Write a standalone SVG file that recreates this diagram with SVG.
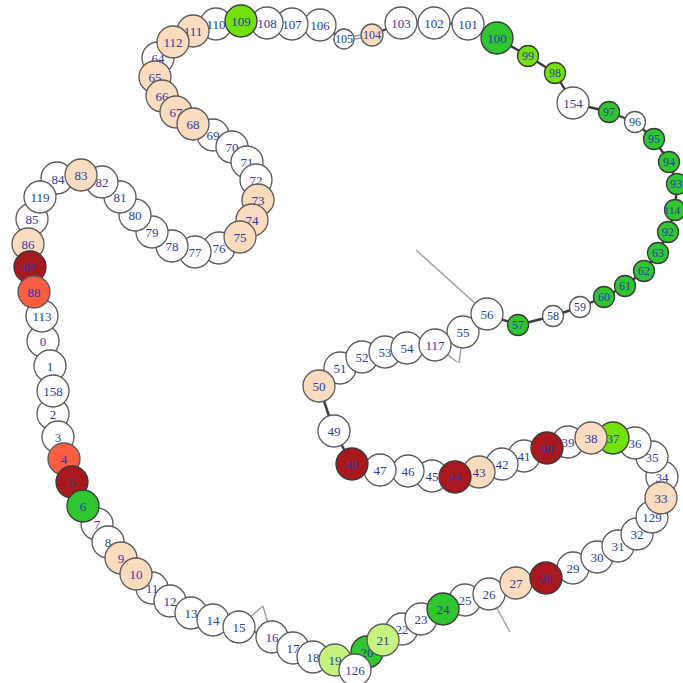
<svg xmlns="http://www.w3.org/2000/svg" width="683" height="683" viewBox="0 0 683 683">
<style>
.n{stroke:#5a5a5a;stroke-width:1.3}
.w{fill:#ffffff}
.pe{fill:#fcdcbf}
.dr{fill:#a8191f;stroke:#3a3a3a}
.tm{fill:#fa5d42}
.g{fill:#2fc62f;stroke:#3a3a3a}
.bg{fill:#72e20a;stroke:#3a3a3a}
.lg{fill:#c6f27e}
text{font-family:"Liberation Serif","Times New Roman",serif;font-size:13px;fill:#2b3ba8;text-anchor:middle;dominant-baseline:central}
.s text{font-size:12px}
.e line{stroke:#4a4a4a;stroke-width:1.6}
.e .k{stroke:#3a3a3a;stroke-width:2.4}
.e .f{stroke:#a0a0a0;stroke-width:1.5}
</style>
<rect width="683" height="683" fill="#ffffff"/>
<g id="edges" class="e">
<line class="f" x1="487" y1="314" x2="416" y2="250"/>
<line class="f" x1="463" y1="332" x2="459" y2="363"/>
<line class="f" x1="435" y1="345" x2="457" y2="362"/>
<line class="f" x1="239" y1="627" x2="263" y2="606"/>
<line class="f" x1="272" y1="637" x2="263" y2="606"/>
<line class="f" x1="489" y1="594" x2="510" y2="632"/>
<line x1="42" y1="316" x2="43" y2="341"/>
<line x1="43" y1="341" x2="50" y2="366"/>
<line x1="50" y1="366" x2="53" y2="391"/>
<line x1="53" y1="391" x2="53" y2="414"/>
<line x1="53" y1="414" x2="58" y2="437"/>
<line x1="58" y1="437" x2="64" y2="459"/>
<line x1="64" y1="459" x2="72" y2="482"/>
<line x1="72" y1="482" x2="83" y2="506"/>
<line x1="83" y1="506" x2="97" y2="524"/>
<line x1="97" y1="524" x2="108" y2="542"/>
<line x1="108" y1="542" x2="121" y2="558"/>
<line x1="121" y1="558" x2="136" y2="574"/>
<line x1="136" y1="574" x2="152" y2="588"/>
<line x1="152" y1="588" x2="170" y2="601"/>
<line x1="170" y1="601" x2="191" y2="613"/>
<line x1="191" y1="613" x2="213" y2="620"/>
<line x1="213" y1="620" x2="239" y2="627"/>
<line x1="239" y1="627" x2="272" y2="637"/>
<line x1="272" y1="637" x2="293" y2="648"/>
<line x1="293" y1="648" x2="313" y2="657"/>
<line x1="313" y1="657" x2="335" y2="660"/>
<line x1="335" y1="660" x2="355" y2="670"/>
<line x1="355" y1="670" x2="367" y2="652"/>
<line x1="367" y1="652" x2="383" y2="640"/>
<line x1="383" y1="640" x2="402" y2="629"/>
<line x1="402" y1="629" x2="421" y2="619"/>
<line x1="421" y1="619" x2="443" y2="609"/>
<line x1="443" y1="609" x2="465" y2="600"/>
<line x1="465" y1="600" x2="489" y2="594"/>
<line x1="489" y1="594" x2="516" y2="583"/>
<line x1="516" y1="583" x2="546" y2="578"/>
<line x1="546" y1="578" x2="573" y2="568"/>
<line x1="573" y1="568" x2="597" y2="557"/>
<line x1="597" y1="557" x2="618" y2="546"/>
<line x1="618" y1="546" x2="637" y2="534"/>
<line x1="637" y1="534" x2="652" y2="517"/>
<line x1="652" y1="517" x2="661" y2="498"/>
<line x1="661" y1="498" x2="662" y2="477"/>
<line x1="662" y1="477" x2="652" y2="457"/>
<line x1="652" y1="457" x2="635" y2="443"/>
<line x1="635" y1="443" x2="613" y2="438"/>
<line x1="613" y1="438" x2="591" y2="438"/>
<line x1="591" y1="438" x2="568" y2="442"/>
<line x1="568" y1="442" x2="547" y2="448"/>
<line x1="547" y1="448" x2="524" y2="456"/>
<line x1="524" y1="456" x2="502" y2="464"/>
<line x1="502" y1="464" x2="479" y2="472"/>
<line x1="479" y1="472" x2="455" y2="477"/>
<line x1="455" y1="477" x2="432" y2="476"/>
<line x1="432" y1="476" x2="408" y2="471"/>
<line x1="408" y1="471" x2="380" y2="470"/>
<line x1="380" y1="470" x2="352" y2="464"/>
<line class="k" x1="352" y1="464" x2="334" y2="431"/>
<line class="k" x1="334" y1="431" x2="319" y2="386"/>
<line x1="319" y1="386" x2="340" y2="368"/>
<line x1="340" y1="368" x2="362" y2="357"/>
<line x1="362" y1="357" x2="385" y2="352"/>
<line x1="385" y1="352" x2="407" y2="348"/>
<line x1="407" y1="348" x2="435" y2="345"/>
<line x1="435" y1="345" x2="463" y2="332"/>
<line x1="463" y1="332" x2="487" y2="314"/>
<line class="k" x1="487" y1="314" x2="518" y2="325"/>
<line class="k" x1="518" y1="325" x2="553" y2="316"/>
<line class="k" x1="553" y1="316" x2="580" y2="307"/>
<line class="k" x1="580" y1="307" x2="604" y2="297"/>
<line class="k" x1="604" y1="297" x2="625" y2="286"/>
<line class="k" x1="625" y1="286" x2="644" y2="271"/>
<line class="k" x1="644" y1="271" x2="658" y2="253"/>
<line class="k" x1="658" y1="253" x2="668" y2="232"/>
<line class="k" x1="668" y1="232" x2="675" y2="210"/>
<line class="k" x1="675" y1="210" x2="677" y2="184"/>
<line class="k" x1="677" y1="184" x2="669" y2="162"/>
<line class="k" x1="669" y1="162" x2="654" y2="139"/>
<line class="k" x1="654" y1="139" x2="635" y2="122"/>
<line class="k" x1="635" y1="122" x2="609" y2="112"/>
<line class="k" x1="609" y1="112" x2="573" y2="103"/>
<line class="k" x1="573" y1="103" x2="555" y2="73"/>
<line class="k" x1="555" y1="73" x2="528" y2="56"/>
<line class="k" x1="528" y1="56" x2="497" y2="38"/>
<line x1="497" y1="38" x2="468" y2="24"/>
<line class="k" x1="468" y1="24" x2="434" y2="23"/>
<line class="k" x1="434" y1="23" x2="401" y2="23"/>
<line class="k" x1="401" y1="23" x2="372" y2="35"/>
<line class="f" x1="372" y1="33.5" x2="344" y2="37.5"/>
<line class="f" x1="372" y1="36.5" x2="344" y2="40.5"/>
<line class="k" x1="344" y1="39" x2="320" y2="25"/>
<line x1="320" y1="25" x2="292" y2="24"/>
<line x1="292" y1="24" x2="267" y2="23"/>
<line x1="267" y1="23" x2="241" y2="21"/>
<line x1="241" y1="21" x2="216" y2="24"/>
<line x1="216" y1="24" x2="193" y2="31"/>
<line x1="193" y1="31" x2="173" y2="42"/>
<line x1="173" y1="42" x2="158" y2="58"/>
<line x1="158" y1="58" x2="155" y2="77"/>
<line x1="155" y1="77" x2="162" y2="96"/>
<line x1="162" y1="96" x2="176" y2="112"/>
<line x1="176" y1="112" x2="193" y2="124"/>
<line x1="193" y1="124" x2="213" y2="135"/>
<line x1="213" y1="135" x2="232" y2="147"/>
<line x1="232" y1="147" x2="247" y2="162"/>
<line x1="247" y1="162" x2="256" y2="180"/>
<line x1="256" y1="180" x2="258" y2="200"/>
<line x1="258" y1="200" x2="252" y2="220"/>
<line x1="252" y1="220" x2="240" y2="237"/>
<line x1="240" y1="237" x2="219" y2="248"/>
<line x1="219" y1="248" x2="195" y2="252"/>
<line x1="195" y1="252" x2="172" y2="246"/>
<line x1="172" y1="246" x2="152" y2="232"/>
<line x1="152" y1="232" x2="135" y2="215"/>
<line x1="135" y1="215" x2="120" y2="197"/>
<line x1="120" y1="197" x2="102" y2="182"/>
<line x1="102" y1="182" x2="81" y2="175"/>
<line x1="81" y1="175" x2="57" y2="178"/>
<line x1="57" y1="178" x2="40" y2="197"/>
<line x1="40" y1="197" x2="32" y2="219"/>
<line x1="32" y1="219" x2="28" y2="244"/>
<line x1="28" y1="244" x2="30" y2="267"/>
<line x1="30" y1="267" x2="34" y2="292"/>
<line x1="34" y1="292" x2="42" y2="316"/>
</g>
<g id="nodes">
<g id="n0"><circle class="n w" cx="43" cy="341" r="16"/><text x="43" y="341">0</text></g>
<g id="n1"><circle class="n w" cx="50" cy="366" r="16"/><text x="50" y="366">1</text></g>
<g id="n2"><circle class="n w" cx="53" cy="414" r="16"/><text x="53" y="414">2</text></g>
<g id="n3"><circle class="n w" cx="58" cy="437" r="16"/><text x="58" y="437">3</text></g>
<g id="n7"><circle class="n w" cx="97" cy="524" r="16"/><text x="97" y="524">7</text></g>
<g id="n8"><circle class="n w" cx="108" cy="542" r="16"/><text x="108" y="542">8</text></g>
<g id="n11"><circle class="n w" cx="152" cy="588" r="16"/><text x="152" y="588">11</text></g>
<g id="n12"><circle class="n w" cx="170" cy="601" r="16"/><text x="170" y="601">12</text></g>
<g id="n13"><circle class="n w" cx="191" cy="613" r="16"/><text x="191" y="613">13</text></g>
<g id="n14"><circle class="n w" cx="213" cy="620" r="16"/><text x="213" y="620">14</text></g>
<g id="n15"><circle class="n w" cx="239" cy="627" r="16"/><text x="239" y="627">15</text></g>
<g id="n16"><circle class="n w" cx="272" cy="637" r="16"/><text x="272" y="637">16</text></g>
<g id="n17"><circle class="n w" cx="293" cy="648" r="16"/><text x="293" y="648">17</text></g>
<g id="n18"><circle class="n w" cx="313" cy="657" r="16"/><text x="313" y="657">18</text></g>
<g id="n22"><circle class="n w" cx="402" cy="629" r="16"/><text x="402" y="629">22</text></g>
<g id="n23"><circle class="n w" cx="421" cy="619" r="16"/><text x="421" y="619">23</text></g>
<g id="n25"><circle class="n w" cx="465" cy="600" r="16"/><text x="465" y="600">25</text></g>
<g id="n26"><circle class="n w" cx="489" cy="594" r="16"/><text x="489" y="594">26</text></g>
<g id="n29"><circle class="n w" cx="573" cy="568" r="16"/><text x="573" y="568">29</text></g>
<g id="n30"><circle class="n w" cx="597" cy="557" r="16"/><text x="597" y="557">30</text></g>
<g id="n31"><circle class="n w" cx="618" cy="546" r="16"/><text x="618" y="546">31</text></g>
<g id="n32"><circle class="n w" cx="637" cy="534" r="16"/><text x="637" y="534">32</text></g>
<g id="n34"><circle class="n w" cx="662" cy="477" r="16"/><text x="662" y="477">34</text></g>
<g id="n35"><circle class="n w" cx="652" cy="457" r="16"/><text x="652" y="457">35</text></g>
<g id="n36"><circle class="n w" cx="635" cy="443" r="16"/><text x="635" y="443">36</text></g>
<g id="n39"><circle class="n w" cx="568" cy="442" r="16"/><text x="568" y="442">39</text></g>
<g id="n41"><circle class="n w" cx="524" cy="456" r="16"/><text x="524" y="456">41</text></g>
<g id="n42"><circle class="n w" cx="502" cy="464" r="16"/><text x="502" y="464">42</text></g>
<g id="n45"><circle class="n w" cx="432" cy="476" r="16"/><text x="432" y="476">45</text></g>
<g id="n46"><circle class="n w" cx="408" cy="471" r="16"/><text x="408" y="471">46</text></g>
<g id="n47"><circle class="n w" cx="380" cy="470" r="16"/><text x="380" y="470">47</text></g>
<g id="n49"><circle class="n w" cx="334" cy="431" r="16"/><text x="334" y="431">49</text></g>
<g id="n51"><circle class="n w" cx="340" cy="368" r="16"/><text x="340" y="368">51</text></g>
<g id="n52"><circle class="n w" cx="362" cy="357" r="16"/><text x="362" y="357">52</text></g>
<g id="n53"><circle class="n w" cx="385" cy="352" r="16"/><text x="385" y="352">53</text></g>
<g id="n54"><circle class="n w" cx="407" cy="348" r="16"/><text x="407" y="348">54</text></g>
<g id="n55"><circle class="n w" cx="463" cy="332" r="16"/><text x="463" y="332">55</text></g>
<g id="n56"><circle class="n w" cx="487" cy="314" r="16"/><text x="487" y="314">56</text></g>
<g id="n58" class="s"><circle class="n w" cx="553" cy="316" r="10.5"/><text x="553" y="316">58</text></g>
<g id="n59" class="s"><circle class="n w" cx="580" cy="307" r="10.5"/><text x="580" y="307">59</text></g>
<g id="n64"><circle class="n w" cx="158" cy="58" r="16"/><text x="158" y="58">64</text></g>
<g id="n69"><circle class="n w" cx="213" cy="135" r="16"/><text x="213" y="135">69</text></g>
<g id="n70"><circle class="n w" cx="232" cy="147" r="16"/><text x="232" y="147">70</text></g>
<g id="n71"><circle class="n w" cx="247" cy="162" r="16"/><text x="247" y="162">71</text></g>
<g id="n72"><circle class="n w" cx="256" cy="180" r="16"/><text x="256" y="180">72</text></g>
<g id="n76"><circle class="n w" cx="219" cy="248" r="16"/><text x="219" y="248">76</text></g>
<g id="n77"><circle class="n w" cx="195" cy="252" r="16"/><text x="195" y="252">77</text></g>
<g id="n78"><circle class="n w" cx="172" cy="246" r="16"/><text x="172" y="246">78</text></g>
<g id="n79"><circle class="n w" cx="152" cy="232" r="16"/><text x="152" y="232">79</text></g>
<g id="n80"><circle class="n w" cx="135" cy="215" r="16"/><text x="135" y="215">80</text></g>
<g id="n81"><circle class="n w" cx="120" cy="197" r="16"/><text x="120" y="197">81</text></g>
<g id="n82"><circle class="n w" cx="102" cy="182" r="16"/><text x="102" y="182">82</text></g>
<g id="n84"><circle class="n w" cx="57" cy="178" r="16"/><text x="58" y="179">84</text></g>
<g id="n85"><circle class="n w" cx="32" cy="219" r="16"/><text x="32" y="219">85</text></g>
<g id="n96" class="s"><circle class="n w" cx="635" cy="122" r="10.5"/><text x="635" y="122">96</text></g>
<g id="n101"><circle class="n w" cx="468" cy="24" r="16"/><text x="468" y="24">101</text></g>
<g id="n102"><circle class="n w" cx="434" cy="23" r="16"/><text x="434" y="23">102</text></g>
<g id="n103"><circle class="n w" cx="401" cy="23" r="16"/><text x="401" y="23">103</text></g>
<g id="n105" class="s"><circle class="n w" cx="344" cy="39" r="10"/><text x="344" y="39">105</text></g>
<g id="n106"><circle class="n w" cx="320" cy="25" r="16"/><text x="320" y="25">106</text></g>
<g id="n107"><circle class="n w" cx="292" cy="24" r="16"/><text x="292" y="24">107</text></g>
<g id="n108"><circle class="n w" cx="267" cy="23" r="16"/><text x="267" y="23">108</text></g>
<g id="n110"><circle class="n w" cx="216" cy="24" r="16"/><text x="216" y="24">110</text></g>
<g id="n113"><circle class="n w" cx="42" cy="316" r="16"/><text x="42" y="316">113</text></g>
<g id="n117"><circle class="n w" cx="435" cy="345" r="16"/><text x="435" y="345">117</text></g>
<g id="n119"><circle class="n w" cx="40" cy="197" r="16"/><text x="40" y="197">119</text></g>
<g id="n129"><circle class="n w" cx="652" cy="517" r="16"/><text x="652" y="517">129</text></g>
<g id="n154"><circle class="n w" cx="573" cy="103" r="16"/><text x="573" y="103">154</text></g>
<g id="n158"><circle class="n w" cx="53" cy="391" r="16"/><text x="53" y="391">158</text></g>
<g id="n4"><circle class="n tm" cx="64" cy="459" r="16"/><text x="64" y="459">4</text></g>
<g id="n5"><circle class="n dr" cx="72" cy="482" r="16"/><text x="72" y="482">5</text></g>
<g id="n6"><circle class="n g" cx="83" cy="506" r="16"/><text x="83" y="506">6</text></g>
<g id="n9"><circle class="n pe" cx="121" cy="558" r="16"/><text x="121" y="558">9</text></g>
<g id="n10"><circle class="n pe" cx="136" cy="574" r="16"/><text x="136" y="574">10</text></g>
<g id="n19"><circle class="n lg" cx="335" cy="660" r="16"/><text x="335" y="660">19</text></g>
<g id="n20"><circle class="n g" cx="367" cy="652" r="16"/><text x="367" y="652">20</text></g>
<g id="n21"><circle class="n lg" cx="383" cy="640" r="16"/><text x="383" y="640">21</text></g>
<g id="n24"><circle class="n g" cx="443" cy="609" r="16"/><text x="443" y="609">24</text></g>
<g id="n27"><circle class="n pe" cx="516" cy="583" r="16"/><text x="516" y="583">27</text></g>
<g id="n28"><circle class="n dr" cx="546" cy="578" r="16"/><text x="546" y="578">28</text></g>
<g id="n33"><circle class="n pe" cx="661" cy="498" r="16"/><text x="661" y="498">33</text></g>
<g id="n37"><circle class="n bg" cx="613" cy="438" r="16"/><text x="613" y="438">37</text></g>
<g id="n38"><circle class="n pe" cx="591" cy="438" r="16"/><text x="591" y="438">38</text></g>
<g id="n40"><circle class="n dr" cx="547" cy="448" r="16"/><text x="547" y="448">40</text></g>
<g id="n43"><circle class="n pe" cx="479" cy="472" r="16"/><text x="479" y="472">43</text></g>
<g id="n44"><circle class="n dr" cx="455" cy="477" r="16"/><text x="455" y="477">44</text></g>
<g id="n48"><circle class="n dr" cx="352" cy="464" r="16"/><text x="352" y="464">48</text></g>
<g id="n50"><circle class="n pe" cx="319" cy="386" r="16"/><text x="319" y="386">50</text></g>
<g id="n57" class="s"><circle class="n g" cx="518" cy="325" r="10.5"/><text x="518" y="325">57</text></g>
<g id="n60" class="s"><circle class="n g" cx="604" cy="297" r="10.5"/><text x="604" y="297">60</text></g>
<g id="n61" class="s"><circle class="n g" cx="625" cy="286" r="10.5"/><text x="625" y="286">61</text></g>
<g id="n62" class="s"><circle class="n g" cx="644" cy="271" r="10.5"/><text x="644" y="271">62</text></g>
<g id="n63" class="s"><circle class="n g" cx="658" cy="253" r="10.5"/><text x="658" y="253">63</text></g>
<g id="n65"><circle class="n pe" cx="155" cy="77" r="16"/><text x="155" y="77">65</text></g>
<g id="n66"><circle class="n pe" cx="162" cy="96" r="16"/><text x="162" y="96">66</text></g>
<g id="n67"><circle class="n pe" cx="176" cy="112" r="16"/><text x="176" y="112">67</text></g>
<g id="n68"><circle class="n pe" cx="193" cy="124" r="16"/><text x="193" y="124">68</text></g>
<g id="n73"><circle class="n pe" cx="258" cy="200" r="16"/><text x="258" y="200">73</text></g>
<g id="n74"><circle class="n pe" cx="252" cy="220" r="16"/><text x="252" y="220">74</text></g>
<g id="n75"><circle class="n pe" cx="240" cy="237" r="16"/><text x="240" y="237">75</text></g>
<g id="n83"><circle class="n pe" cx="81" cy="175" r="16"/><text x="81" y="175">83</text></g>
<g id="n86"><circle class="n pe" cx="28" cy="244" r="16"/><text x="28" y="244">86</text></g>
<g id="n87"><circle class="n dr" cx="30" cy="267" r="16"/><text x="30" y="267">87</text></g>
<g id="n88"><circle class="n tm" cx="34" cy="292" r="16"/><text x="34" y="292">88</text></g>
<g id="n92" class="s"><circle class="n g" cx="668" cy="232" r="10.5"/><text x="668" y="232">92</text></g>
<g id="n93" class="s"><circle class="n g" cx="677" cy="184" r="10.5"/><text x="676" y="184">93</text></g>
<g id="n94" class="s"><circle class="n g" cx="669" cy="162" r="10.5"/><text x="669" y="162">94</text></g>
<g id="n95" class="s"><circle class="n g" cx="654" cy="139" r="10.5"/><text x="654" y="139">95</text></g>
<g id="n97" class="s"><circle class="n g" cx="609" cy="112" r="10.5"/><text x="609" y="112">97</text></g>
<g id="n98" class="s"><circle class="n bg" cx="555" cy="73" r="10.5"/><text x="555" y="73">98</text></g>
<g id="n99" class="s"><circle class="n bg" cx="528" cy="56" r="10.5"/><text x="528" y="56">99</text></g>
<g id="n100"><circle class="n g" cx="497" cy="38" r="16"/><text x="497" y="38">100</text></g>
<g id="n104" class="s"><circle class="n pe" cx="372" cy="35" r="11"/><text x="372" y="35">104</text></g>
<g id="n109"><circle class="n bg" cx="241" cy="21" r="16"/><text x="241" y="21">109</text></g>
<g id="n111"><circle class="n pe" cx="193" cy="31" r="16"/><text x="193" y="31">111</text></g>
<g id="n112"><circle class="n pe" cx="173" cy="42" r="16"/><text x="173" y="42">112</text></g>
<g id="n114" class="s"><circle class="n g" cx="675" cy="210" r="10.5"/><text x="672" y="210" style="font-size:11px">114</text></g>
<g id="n126"><circle class="n w" cx="355" cy="670" r="16"/><text x="355" y="670">126</text></g>
</g>
</svg>
